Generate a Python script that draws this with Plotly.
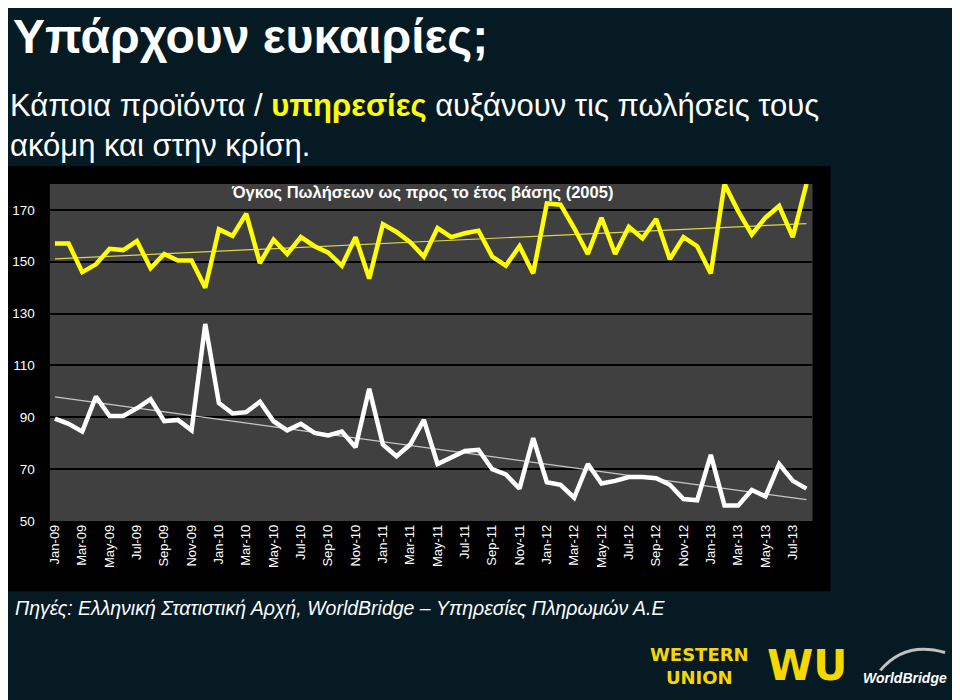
import numpy as np
import plotly.graph_objects as go

# monthly index, Jan-09 .. Aug-13 (2005 = 100)
months = []
for yr in range(9, 14):
    for m in ["Jan", "Feb", "Mar", "Apr", "May", "Jun", "Jul", "Aug", "Sep", "Oct", "Nov", "Dec"]:
        months.append(f"{m}-{yr:02d}")
months = months[:56]

services = [157, 157, 146, 149, 155, 154.5, 158, 147.5, 153, 150.5, 150.5, 140,
            162.5, 160, 168.5, 149.5, 158.5, 153, 159.5, 156, 153.5, 148.5, 159.5, 143.5,
            164.5, 161.5, 157.5, 152, 163, 159.5, 161, 162, 152, 148.5, 156, 145.5,
            172.5, 172, 163, 153, 167, 153, 163.5, 159, 166.5, 151, 159.5, 156,
            145.5, 180, 169.5, 160.5, 167, 171.5, 159.5, 180]

retail = [89.5, 87.5, 84.5, 98, 90.5, 90.5, 93.5, 97, 88.5, 89, 85, 126,
          95.5, 91.5, 92, 96, 88.5, 85, 87.5, 84, 83, 84.5, 78.5, 101,
          79.5, 75, 79.5, 89, 72, 74.5, 77, 77.5, 70, 68, 62.5, 82,
          65, 64, 59, 72, 64.5, 65.5, 67, 67, 66.5, 64, 58.5, 58,
          75.5, 56, 56, 62, 59.5, 72, 65.5, 62.5]

tick_months = months[::2]

W, H = 960, 700
OFF = 8  # the page body margin shifts the figure by 8px
def px(x):
    return (x - OFF) / W
def py(y):
    return 1 - (y - OFF) / H

idx = np.arange(len(months))
fig = go.Figure()

# linear trend lines (least squares, like the spreadsheet trendline)
for vals, col in [(services, "#d8d84a"), (retail, "#c8c8c8")]:
    k, b = np.polyfit(idx, vals, 1)
    fig.add_trace(go.Scatter(x=months, y=k * idx + b, mode="lines",
                             line=dict(color=col, width=1.2), hoverinfo="skip"))

fig.add_trace(go.Scatter(x=months, y=services, mode="lines",
                         line=dict(color="#ffff00", width=4.5)))
fig.add_trace(go.Scatter(x=months, y=retail, mode="lines",
                         line=dict(color="#ffffff", width=4.5)))

fig.update_layout(
    width=W, height=H,
    margin=dict(l=0, r=0, t=0, b=0),
    paper_bgcolor="#061a24",
    plot_bgcolor="rgba(0,0,0,0)",
    showlegend=False,
    font=dict(family="Liberation Sans, Arial, sans-serif", color="white"),
)

fig.update_xaxes(
    domain=[px(47), px(812)],
    type="category", categoryorder="array", categoryarray=months,
    tickvals=tick_months, ticktext=tick_months,
    range=[-0.37, len(months) - 0.56],
    tickangle=-90, tickfont=dict(size=13, color="white"),
    showgrid=False, zeroline=False, showline=False, ticks="",
)
fig.update_yaxes(
    domain=[py(527), py(186)],
    range=[50, 180], tick0=50, dtick=20,
    tickfont=dict(size=13.5, color="white"),
    gridcolor="black", gridwidth=1.5, zeroline=False, showline=False,
    ticklabelstandoff=14,
)

# black chart box and grey plot area
fig.add_shape(type="rect", xref="paper", yref="paper", layer="below",
              x0=px(5), x1=px(830), y0=py(598), y1=py(168),
              fillcolor="black", line=dict(width=0))
fig.add_shape(type="rect", xref="paper", yref="paper", layer="below",
              x0=px(47), x1=px(812), y0=py(527), y1=py(186),
              fillcolor="#404040", line=dict(width=0))

fig.add_annotation(text="<b>Υπάρχουν ευκαιρίες;</b>", xref="paper", yref="paper",
                   x=px(8), y=py(37), xanchor="left", yanchor="middle",
                   showarrow=False, font=dict(size=48, color="white"))
fig.add_annotation(
    text="Κάποια προϊόντα / <b><span style='color:#ffff00'>υπηρεσίες</span></b>"
         " αυξάνουν τις πωλήσεις τους<br>ακόμη και στην κρίση.",
    xref="paper", yref="paper", x=px(5), y=py(127), xanchor="left", yanchor="middle",
    align="left", showarrow=False, font=dict(size=31, color="white"))

fig.add_annotation(text="<b>Όγκος Πωλήσεων ως προς το έτος βάσης (2005)</b>",
                   xref="paper", yref="paper", x=px(420), y=py(195),
                   xanchor="center", yanchor="middle", showarrow=False,
                   font=dict(size=16.5, color="white"))

fig.add_annotation(
    text="<i>Πηγές: Ελληνική Στατιστική Αρχή, WorldBridge – Υπηρεσίες Πληρωμών Α.Ε</i>",
    xref="paper", yref="paper", x=px(10), y=py(615), xanchor="left", yanchor="middle",
    showarrow=False, font=dict(size=19.5, color="white"))

# logos, roughly
fig.add_annotation(text="<b>WESTERN<br>UNION</b>", xref="paper", yref="paper",
                   x=px(699), y=py(674), xanchor="center", yanchor="middle",
                   showarrow=False, align="center",
                   font=dict(family="DejaVu Sans", size=18, color="#f5d800"))
fig.add_annotation(text="<b>WU</b>", xref="paper", yref="paper",
                   x=px(806), y=py(673), xanchor="center", yanchor="middle",
                   showarrow=False,
                   font=dict(family="DejaVu Sans", size=42, color="#f5d800"))
fig.add_annotation(text="<b><i>WorldBridge</i></b>", xref="paper", yref="paper",
                   x=px(905), y=py(686), xanchor="center", yanchor="middle",
                   showarrow=False, font=dict(size=14, color="white"))
fig.add_shape(type="path", xref="paper", yref="paper",
              path=f"M {px(880)} {py(678)} Q {px(905)} {py(648)} {px(945)} {py(660)}",
              line=dict(color="#c0c0c0", width=3))

fig.write_html("out.html")
